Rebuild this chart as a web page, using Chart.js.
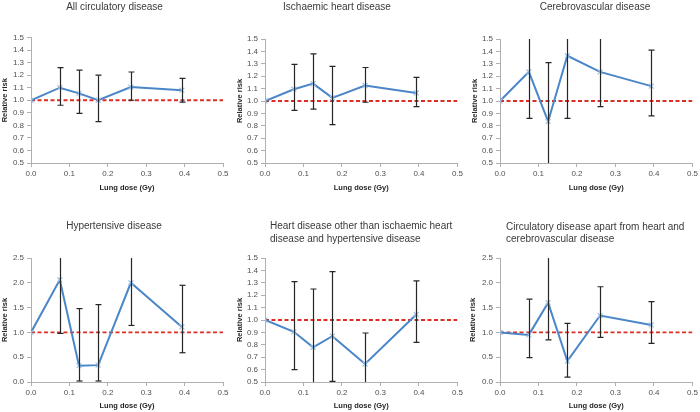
<!DOCTYPE html>
<html><head><meta charset="utf-8">
<script src="https://cdn.jsdelivr.net/npm/chart.js@4.4.1/dist/chart.umd.min.js"></script>
<style>
html,body{margin:0;padding:0;background:#fff;}
body{width:700px;height:412px;position:relative;overflow:hidden;}
.p{position:absolute;}
</style></head><body>
<div class="p" style="left:0px;top:0px;width:235px;height:205px"><canvas id="c1"></canvas></div>
<div class="p" style="left:230px;top:0px;width:235px;height:205px"><canvas id="c2"></canvas></div>
<div class="p" style="left:465px;top:0px;width:235px;height:205px"><canvas id="c3"></canvas></div>
<div class="p" style="left:0px;top:205px;width:235px;height:207px"><canvas id="c4"></canvas></div>
<div class="p" style="left:230px;top:205px;width:235px;height:207px"><canvas id="c5"></canvas></div>
<div class="p" style="left:465px;top:205px;width:235px;height:207px"><canvas id="c6"></canvas></div>
<script>
// ---- data ----
const doses = [0, 0.075, 0.125, 0.175, 0.26, 0.393];
const xTicks = [0.0, 0.1, 0.2, 0.3, 0.4, 0.5];
const yTicksA = [0.5, 0.6, 0.7, 0.8, 0.9, 1.0, 1.1, 1.2, 1.3, 1.4, 1.5];
const yTicksB = [0.0, 0.5, 1.0, 1.5, 2.0, 2.5];
const refLine = [1.0, 1.0];

const titleAll = ['All circulatory disease'];
const rrAll = [1.00, 1.10, 1.055, 1.00, 1.105, 1.08];
const loAll = [null, 0.96, 0.895, 0.83, 1.00, 0.985];
const hiAll = [null, 1.26, 1.24, 1.20, 1.225, 1.175];

const titleIHD = ['Ischaemic heart disease'];
const rrIHD = [1.00, 1.095, 1.14, 1.025, 1.125, 1.065];
const loIHD = [null, 0.925, 0.935, 0.81, 0.99, 0.955];
const hiIHD = [null, 1.295, 1.38, 1.28, 1.27, 1.19];

const titleCV = ['Cerebrovascular disease'];
const rrCV = [1.00, 1.235, 0.835, 1.365, 1.235, 1.12];
const loCV = [null, 0.86, 0.45, 0.86, 0.955, 0.88];
const hiCV = [null, 1.60, 1.31, 1.70, 1.60, 1.41];

const titleHT = ['Hypertensive disease'];
const rrHT = [1.00, 2.06, 0.33, 0.34, 2.00, 1.11];
const loHT = [null, 0.98, 0.02, 0.02, 1.14, 0.59];
const hiHT = [null, 2.70, 1.48, 1.56, 2.60, 1.95];

const titleOH = ['Heart disease other than ischaemic heart', 'disease and hypertensive disease'];
const rrOH = [1.00, 0.905, 0.78, 0.87, 0.645, 1.045];
const loOH = [null, 0.60, 0.45, 0.505, 0.45, 0.82];
const hiOH = [null, 1.31, 1.25, 1.39, 0.895, 1.315];

const titleOC = ['Circulatory disease apart from heart and', 'cerebrovascular disease'];
const rrOC = [1.00, 0.95, 1.60, 0.42, 1.34, 1.15];
const loOC = [null, 0.49, 0.85, 0.10, 0.90, 0.78];
const hiOC = [null, 1.67, 2.80, 1.18, 1.92, 1.62];

// ---- plugins ----
const FONT = '"Liberation Sans", Arial, sans-serif';
const errorBars = {
  id: 'errorBars',
  afterDatasetsDraw(chart, args, o) {
    const {ctx, chartArea: a, scales: {x, y}} = chart;
    ctx.save();
    ctx.beginPath();
    ctx.rect(a.left - 5, a.top, a.right - a.left + 10, a.bottom - a.top);
    ctx.clip();
    ctx.strokeStyle = '#262626';
    ctx.lineWidth = 1.2;
    doses.forEach((d, i) => {
      if (o.lo[i] == null) return;
      const px = Math.round(x.getPixelForValue(d)) + 0.5;
      const y1 = y.getPixelForValue(o.lo[i]);
      const y2 = y.getPixelForValue(o.hi[i]);
      ctx.beginPath(); ctx.moveTo(px, y1); ctx.lineTo(px, y2); ctx.stroke();
      [o.lo[i], o.hi[i]].forEach(v => {
        if (v >= y.min && v <= y.max) {
          const py = y.getPixelForValue(v);
          ctx.beginPath(); ctx.moveTo(px - 3, py); ctx.lineTo(px + 3, py); ctx.stroke();
        }
      });
    });
    ctx.restore();
  }
};
const panelTitle = {
  id: 'panelTitle',
  afterDraw(chart, args, o) {
    const ctx = chart.ctx;
    ctx.save();
    ctx.font = '10px ' + FONT;
    ctx.fillStyle = '#3a3a3a';
    ctx.textAlign = o.align;
    ctx.textBaseline = 'middle';
    o.lines.forEach((t, i) => ctx.fillText(t, o.x, o.y + i * 12.6));
    ctx.restore();
  }
};

function makeChart(id, cfg) {
  const yt = cfg.yt;
  return new Chart(document.getElementById(id), {
    type: 'line',
    data: {
      datasets: [
        {
          data: doses.map((d, i) => ({x: d, y: cfg.rr[i]})),
          borderColor: '#4a86c8', borderWidth: 2, tension: 0,
          pointStyle: 'crossRot', pointRadius: 3.5,
          pointBorderColor: '#9cc3e8', pointBorderWidth: 1.2, pointBackgroundColor: '#9cc3e8'
        },
        {
          data: [{x: xTicks[0], y: refLine[0]}, {x: xTicks[xTicks.length - 1], y: refLine[1]}],
          borderColor: '#dc2e24', borderWidth: 1.8, borderDash: [4, 2.5], pointRadius: 0
        }
      ]
    },
    options: {
      responsive: true, maintainAspectRatio: false, animation: false, devicePixelRatio: 1,
      layout: {padding: {top: cfg.top, right: cfg.right, left: 0, bottom: 0}},
      plugins: {
        legend: {display: false}, tooltip: {enabled: false},
        errorBars: {lo: cfg.lo, hi: cfg.hi},
        panelTitle: cfg.title
      },
      scales: {
        x: {
          type: 'linear', min: xTicks[0], max: xTicks[xTicks.length - 1],
          afterBuildTicks: s => { s.ticks = xTicks.map(v => ({value: v})); },
          ticks: {callback: v => v.toFixed(1), font: {family: FONT, size: 8}, color: '#505050', padding: 2, maxRotation: 0, autoSkip: false},
          grid: {drawOnChartArea: false, drawTicks: true, tickLength: 4, color: '#b0b0b0'},
          border: {color: '#b0b0b0'},
          title: {display: true, text: 'Lung dose (Gy)', color: '#262626', font: {family: FONT, size: 7.5, weight: 'bold'}, padding: {top: 0, bottom: cfg.xtPad}},
          afterFit: s => { s.height = cfg.xh; }
        },
        y: {
          type: 'linear', min: yt[0], max: yt[yt.length - 1],
          afterBuildTicks: s => { s.ticks = yt.map(v => ({value: v})); },
          ticks: {callback: v => v.toFixed(1), font: {family: FONT, size: 8}, color: '#505050', padding: 3, autoSkip: false},
          grid: {drawOnChartArea: false, drawTicks: true, tickLength: 4, color: '#b0b0b0'},
          border: {color: '#b0b0b0'},
          title: {display: true, text: 'Relative risk', color: '#262626', font: {family: FONT, size: 7.5, weight: 'bold'}, padding: {top: cfg.ytPad, bottom: 0}},
          afterFit: s => { s.width = cfg.yw; }
        }
      }
    },
    plugins: [errorBars, panelTitle]
  });
}

makeChart('c1', {rr: rrAll, lo: loAll, hi: hiAll, yt: yTicksA, top: 37.5, right: 12, yw: 31, xh: 42, xtPad: 13, ytPad: 0.5,
  title: {lines: titleAll, x: 114.5, y: 7.5, align: 'center'}});
makeChart('c2', {rr: rrIHD, lo: loIHD, hi: hiIHD, yt: yTicksA, top: 39, right: 7, yw: 35, xh: 42, xtPad: 12.5, ytPad: 5,
  title: {lines: titleIHD, x: 107, y: 7.5, align: 'center'}});
makeChart('c3', {rr: rrCV, lo: loCV, hi: hiCV, yt: yTicksA, top: 39, right: 7, yw: 35, xh: 42, xtPad: 12.5, ytPad: 5,
  title: {lines: titleCV, x: 130, y: 7.5, align: 'center'}});
makeChart('c4', {rr: rrHT, lo: loHT, hi: hiHT, yt: yTicksB, top: 53, right: 12, yw: 31, xh: 30, xtPad: 1.2, ytPad: 0,
  title: {lines: titleHT, x: 114, y: 21.7, align: 'center'}});
makeChart('c5', {rr: rrOH, lo: loOH, hi: hiOH, yt: yTicksA, top: 53, right: 7, yw: 35, xh: 30, xtPad: 1.2, ytPad: 5,
  title: {lines: titleOH, x: 40, y: 21.7, align: 'left'}});
makeChart('c6', {rr: rrOC, lo: loOC, hi: hiOC, yt: yTicksB, top: 53, right: 7, yw: 35, xh: 30, xtPad: 1.2, ytPad: 3.5,
  title: {lines: titleOC, x: 41, y: 22, align: 'left'}});
</script>
</body></html>
